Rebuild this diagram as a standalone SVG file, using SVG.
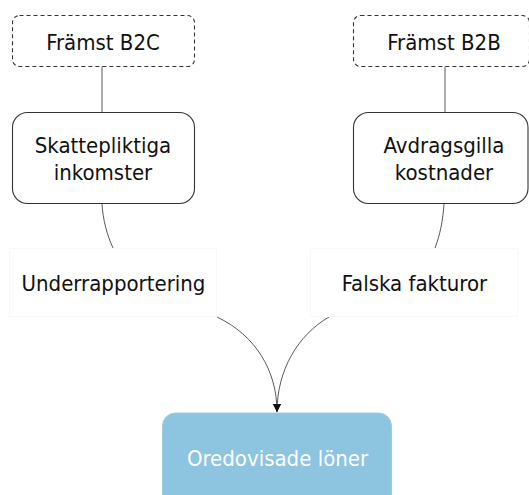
<svg xmlns="http://www.w3.org/2000/svg" width="529" height="495" viewBox="0 0 529 495">
<defs>
<style>
.t{font-family:"DejaVu Sans Condensed","DejaVu Sans",sans-serif;font-size:22px;fill:#111;text-anchor:middle}
.box{fill:#fff;stroke:#333;stroke-width:1.1}
.dash{fill:#fff;stroke:#333;stroke-width:1.1;stroke-dasharray:4 3}
.lbl{fill:#fff;stroke:#f8f8f8;stroke-width:1}
.c{fill:none;stroke:#5a5a5a;stroke-width:1}
</style>
<marker id="ah" viewBox="0 0 10 10" refX="10" refY="5" markerWidth="8" markerHeight="8" markerUnits="userSpaceOnUse" orient="auto">
<path d="M0,0 L10,5 L0,10 z" fill="#111"/>
</marker>
</defs>
<rect width="529" height="495" fill="#fff"/>
<g id="connectors">
<path class="c" d="M102,66 L102,112"/>
<path class="c" d="M445,66 L445,112"/>
<path class="c" d="M102,204 C103,220 107,235 113,248"/>
<path class="c" d="M444,204 C443,220 440,235 435,248"/>
<path class="c" d="M217,317 C255,335 277,370 277,412" marker-end="url(#ah)"/>
<path class="c" d="M329,317 C298,335 277,370 277,412" marker-end="url(#ah)"/>
</g>
<g id="b2c">
<rect class="dash" x="12.5" y="15.5" width="182" height="51" rx="7"/>
<text class="t" x="103" y="50">Främst B2C</text>
</g>
<g id="b2b">
<rect class="dash" x="353.5" y="15.5" width="176" height="51" rx="7"/>
<text class="t" x="444" y="50">Främst B2B</text>
</g>
<g id="skatt">
<rect class="box" x="12.5" y="112.5" width="182" height="91" rx="15"/>
<text class="t" x="103" y="153">Skattepliktiga</text>
<text class="t" x="103" y="180">inkomster</text>
</g>
<g id="avdrag">
<rect class="box" x="353.5" y="112.5" width="174.5" height="91" rx="15"/>
<text class="t" x="444" y="153">Avdragsgilla</text>
<text class="t" x="444" y="180">kostnader</text>
</g>
<g id="under">
<rect class="lbl" x="9.5" y="248.5" width="207" height="68"/>
<text class="t" x="113.5" y="291">Underrapportering</text>
</g>
<g id="falska">
<rect class="lbl" x="310.5" y="248.5" width="207" height="68"/>
<text class="t" x="414.5" y="291">Falska fakturor</text>
</g>
<g id="loner">
<rect x="162.5" y="413" width="229" height="100" rx="13" fill="#8DC4E0" stroke="#9ccbe3" stroke-width="1"/>
<text class="t" x="277.5" y="466" style="fill:#fff">Oredovisade löner</text>
</g>
</svg>
